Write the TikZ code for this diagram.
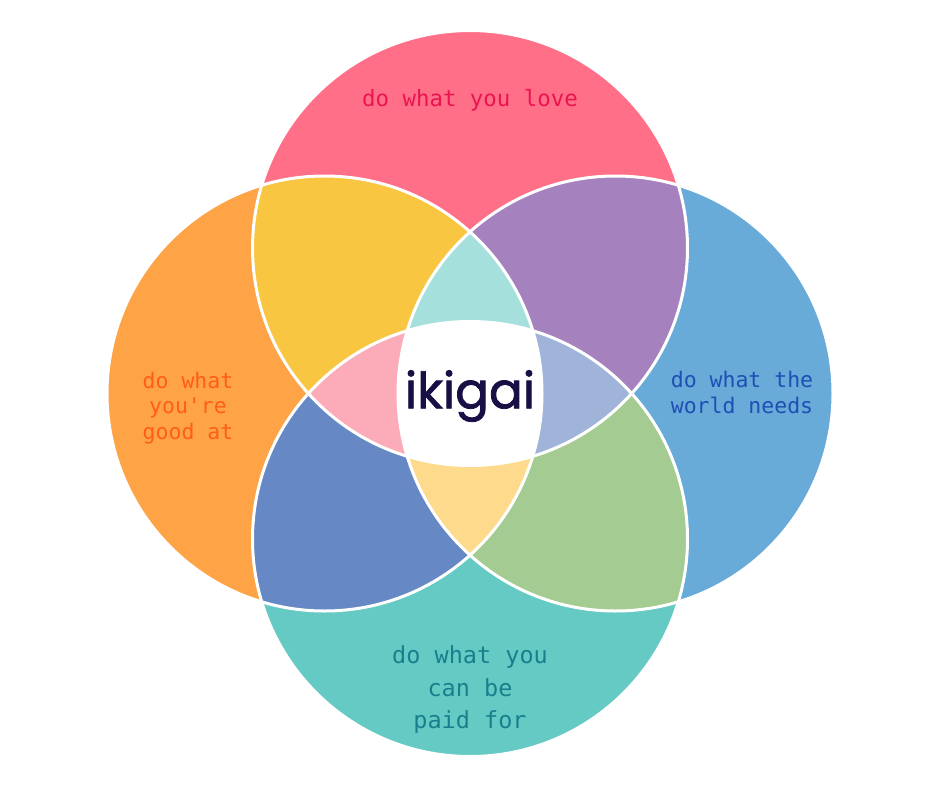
\documentclass[tikz,border=0pt]{standalone}
\usepackage{fontspec}
\newfontfamily\labelfont{DejaVu Sans Mono}
\newfontfamily\titlefont[FakeBold=1.6]{Poppins}
\definecolor{cT}{HTML}{FF7088}
\definecolor{cL}{HTML}{FFA347}
\definecolor{cR}{HTML}{68AAD8}
\definecolor{cB}{HTML}{66CAC4}
\definecolor{cTL}{HTML}{F8C640}
\definecolor{cTR}{HTML}{A582BE}
\definecolor{cBL}{HTML}{6688C4}
\definecolor{cBR}{HTML}{A4CB92}
\definecolor{cTLR}{HTML}{A6E0DC}
\definecolor{cTLB}{HTML}{FCACB8}
\definecolor{cTRB}{HTML}{A0B4DA}
\definecolor{cLRB}{HTML}{FDDA8C}
\definecolor{tT}{HTML}{EA1450}
\definecolor{tL}{HTML}{FF5E14}
\definecolor{tR}{HTML}{1E4FB4}
\definecolor{tB}{HTML}{17808C}
\definecolor{tC}{HTML}{1A0F45}
\tikzset{
  lbl/.style={align=center, inner sep=0pt},
  ring/.style={draw=white, line width=3pt}
}
\begin{document}
\begin{tikzpicture}[x=1pt,y=-1pt]
\useasboundingbox (0,0) rectangle (940,788);
\def\rr{217.5pt}
\coordinate (T) at (470,248);
\coordinate (L) at (324.5,393.5);
\coordinate (R) at (615.5,393.5);
\coordinate (B) at (470,539);
% single circles
\fill[cT] (T) circle[radius=\rr];
\fill[cL] (L) circle[radius=\rr];
\fill[cR] (R) circle[radius=\rr];
\fill[cB] (B) circle[radius=\rr];
% pairs
\begin{scope}
  \clip (T) circle[radius=\rr];
  \fill[cTL] (L) circle[radius=\rr];
  \fill[cTR] (R) circle[radius=\rr];
\end{scope}
\begin{scope}
  \clip (B) circle[radius=\rr];
  \fill[cBL] (L) circle[radius=\rr];
  \fill[cBR] (R) circle[radius=\rr];
\end{scope}
% triples
\begin{scope}
  \clip (T) circle[radius=\rr];
  \clip (L) circle[radius=\rr];
  \fill[cTLR] (R) circle[radius=\rr];
\end{scope}
\begin{scope}
  \clip (T) circle[radius=\rr];
  \clip (L) circle[radius=\rr];
  \fill[cTLB] (B) circle[radius=\rr];
\end{scope}
\begin{scope}
  \clip (T) circle[radius=\rr];
  \clip (R) circle[radius=\rr];
  \fill[cTRB] (B) circle[radius=\rr];
\end{scope}
\begin{scope}
  \clip (L) circle[radius=\rr];
  \clip (R) circle[radius=\rr];
  \fill[cLRB] (B) circle[radius=\rr];
\end{scope}
% all four
\begin{scope}
  \clip (T) circle[radius=\rr];
  \clip (L) circle[radius=\rr];
  \clip (R) circle[radius=\rr];
  \fill[white] (B) circle[radius=\rr];
\end{scope}
% white outlines
\draw[ring] (T) circle[radius=\rr];
\draw[ring] (L) circle[radius=\rr];
\draw[ring] (R) circle[radius=\rr];
\draw[ring] (B) circle[radius=\rr];
% labels
\node[lbl, text=tT, font=\labelfont\fontsize{22.4}{26}\selectfont] (love) at (470,100) {do what you love};
\node[lbl, text=tL, font=\labelfont\fontsize{21.5}{25.5}\selectfont] (good) at (188,408) {do what\\you're\\good at};
\node[lbl, text=tR, font=\labelfont\fontsize{21.5}{26}\selectfont] (world) at (742,392) {do what the\\world needs};
\node[lbl, text=tB, font=\labelfont\fontsize{23.5}{32.5}\selectfont] (paid) at (470,690) {do what you\\can be\\paid for};
\node[lbl, text=tC, font=\titlefont\fontsize{50}{55}\selectfont] (ikigai) at (470,396) {ikigai};
\end{tikzpicture}
\end{document}
